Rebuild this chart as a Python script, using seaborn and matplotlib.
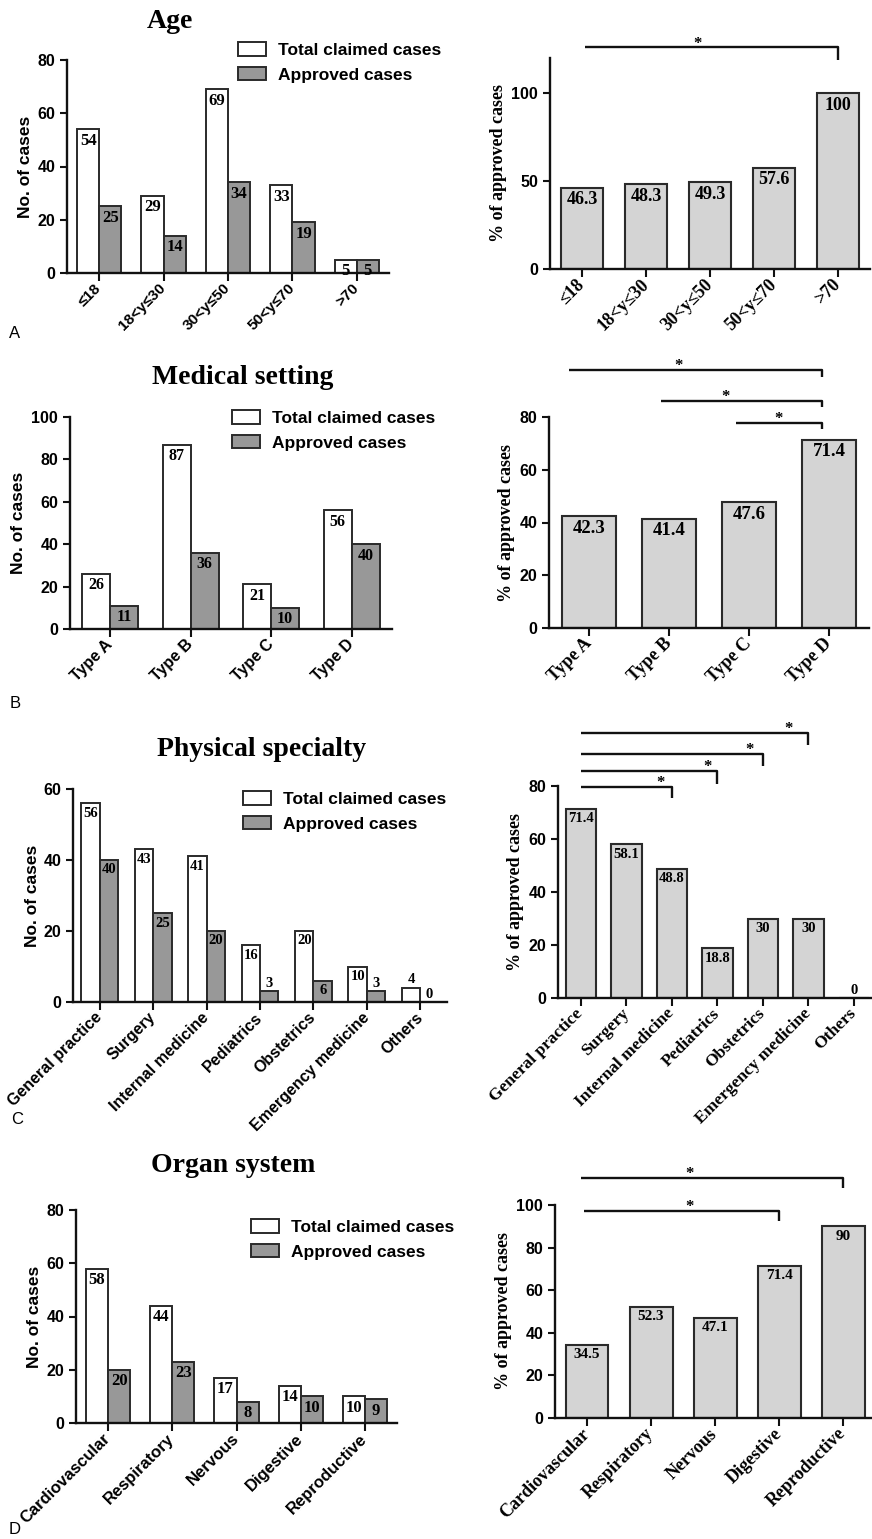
import pandas as pd
import seaborn as sns
import matplotlib.pyplot as plt
import matplotlib.patches as mpatches

# ---- data ----
age_groups = ["≤18", "18<y≤30", "30<y≤50", "50<y≤70", ">70"]
age_total = [54, 29, 69, 33, 5]
age_approved = [25, 14, 34, 19, 5]
age_pct = [46.3, 48.3, 49.3, 57.6, 100]

setting_types = ["Type A", "Type B", "Type C", "Type D"]
setting_total = [26, 87, 21, 56]
setting_approved = [11, 36, 10, 40]
setting_pct = [42.3, 41.4, 47.6, 71.4]

specialties = ["General practice", "Surgery", "Internal medicine", "Pediatrics",
               "Obstetrics", "Emergency medicine", "Others"]
specialty_total = [56, 43, 41, 16, 20, 10, 4]
specialty_approved = [40, 25, 20, 3, 6, 3, 0]
specialty_pct = [71.4, 58.1, 48.8, 18.8, 30, 30, 0]

organs = ["Cardiovascular", "Respiratory", "Nervous", "Digestive", "Reproductive"]
organ_total = [58, 44, 17, 14, 10]
organ_approved = [20, 23, 8, 10, 9]
organ_pct = [34.5, 52.3, 47.1, 71.4, 90]

series_names = ["Total claimed cases", "Approved cases"]

# ---- style ----
sns.set_style("ticks")
SANS = ["Liberation Sans", "DejaVu Sans"]
SERIF = ["Liberation Serif", "DejaVu Serif"]
plt.rcParams["font.family"] = SANS
for key in ["text.color", "axes.labelcolor", "xtick.color", "ytick.color"]:
    plt.rcParams[key] = "black"
EDGE = "#2a2a2a"
WHITE, DARK, LIGHT = "#ffffff", "#989898", "#d4d4d4"

W, H = 872, 1539
fig = plt.figure(figsize=(W / 100, H / 100), dpi=100)


def add_ax(x0, x1, ytop, ybot):
    return fig.add_axes([x0 / W, 1 - ybot / H, (x1 - x0) / W, (ybot - ytop) / H])


def style_axis(ax, ylim, yticks, lab_right, x0, x1):
    ax.set_ylim(*ylim)
    ax.set_yticks(yticks)
    for s in ["top", "right"]:
        ax.spines[s].set_visible(False)
    for s in ["left", "bottom"]:
        ax.spines[s].set_linewidth(1.7)
        ax.spines[s].set_color("#111111")
    ax.tick_params(direction="out", length=5, width=1.5, color="#111111")
    ax.tick_params(axis="x", length=6)
    for t in ax.get_yticklabels():
        t.set_fontfamily(SANS)
        t.set_fontweight("bold")
        t.set_fontsize(11.5)
    ax.set_xlabel("")
    ax.yaxis.set_label_coords((lab_right - x0) / (x1 - x0), 0.5)


def label_bars(ax, values_list, fs, above_below=5):
    for cont, values in zip(ax.containers, values_list):
        for rect, v in zip(cont.patches, values):
            cx = rect.get_x() + rect.get_width() / 2
            if v < above_below:
                ax.annotate(f"{v:g}", (cx, v), xytext=(0, 1), textcoords="offset points",
                            ha="center", va="bottom", fontsize=fs, fontweight="bold",
                            fontfamily=SERIF, annotation_clip=False)
            else:
                ax.annotate(f"{v:g}", (cx, v), xytext=(0, -2.5), textcoords="offset points",
                            ha="center", va="top", fontsize=fs, fontweight="bold",
                            fontfamily=SERIF)


def counts_panel(box, cats, total, approved, ylim, yticks, fs, lab_right, xfs, legend_xy):
    x0, x1, yt, yb = box
    ax = add_ax(*box)
    n = len(cats)
    df = pd.DataFrame({"cat": cats * 2, "value": total + approved,
                       "series": [series_names[0]] * n + [series_names[1]] * n})
    sns.barplot(data=df, x="cat", y="value", hue="series", order=cats, hue_order=series_names,
                palette=[WHITE, DARK], width=0.69, saturation=1, edgecolor=EDGE, linewidth=1.4,
                errorbar=None, legend=False, ax=ax)
    ax.set_xlim(-0.5, n - 0.5)
    style_axis(ax, ylim, yticks, lab_right, x0, x1)
    ax.set_xticks(range(n))
    ax.set_xticklabels(cats, rotation=45, ha="right", va="center", rotation_mode="anchor",
                       fontfamily=SANS, fontweight="bold", fontsize=xfs)
    ax.set_ylabel("No. of cases", fontfamily=SANS, fontweight="bold", fontsize=12.5)
    label_bars(ax, [total, approved], fs)
    handles = [mpatches.Patch(facecolor=c, edgecolor=EDGE, linewidth=1.4) for c in (WHITE, DARK)]
    ax.legend(handles, series_names, loc="upper left", frameon=False,
              bbox_to_anchor=(legend_xy[0] / W, 1 - legend_xy[1] / H), bbox_transform=fig.transFigure,
              prop={"family": SANS, "weight": "bold", "size": 12.5}, handlelength=1.6,
              handleheight=0.85, handletextpad=0.7, labelspacing=0.5, borderpad=0, borderaxespad=0)
    return ax


def pct_panel(box, cats, pct, ylim, yticks, fs, lab_right, xfs, brackets, xmax=None):
    x0, x1, yt, yb = box
    ax = add_ax(*box)
    n = len(cats)
    sns.barplot(x=cats, y=pct, order=cats, color=LIGHT, width=0.67, saturation=1,
                edgecolor=EDGE, linewidth=1.5, errorbar=None, ax=ax)
    ax.set_xlim(-0.5, xmax if xmax is not None else n - 0.5)
    style_axis(ax, ylim, yticks, lab_right, x0, x1)
    ax.set_xticks(range(n))
    ax.set_xticklabels(cats, rotation=45, ha="right", va="center", rotation_mode="anchor",
                       fontfamily=SERIF, fontweight="bold", fontsize=xfs)
    ax.set_ylabel("% of approved cases", fontfamily=SERIF, fontweight="bold", fontsize=13)
    label_bars(ax, [pct], fs, above_below=1)
    for xs, xe, y, yd, xstar in brackets:
        ax.plot([xs, xe, xe], [y, y, yd], color="#111111", lw=1.7, clip_on=False,
                solid_capstyle="butt")
        ax.annotate("*", (xstar, y), xytext=(0, -3), textcoords="offset points", ha="center",
                    va="bottom", fontsize=12, fontweight="bold", fontfamily=SERIF,
                    annotation_clip=False)
    return ax


# ---- panels ----
counts_panel((67, 389, 60, 273), age_groups, age_total, age_approved, (0, 80), range(0, 81, 20),
             12, 33, 11, (238, 42))
pct_panel((550, 870, 58, 269), age_groups, age_pct, (0, 120), [0, 50, 100], 13, 507, 13,
          [(0.05, 4.0, 126, 119, 1.8)])

counts_panel((70, 392, 417, 629), setting_types, setting_total, setting_approved, (0, 100),
             range(0, 101, 20), 11.5, 26, 11.5, (232, 410))
pct_panel((549, 869, 417, 628), setting_types, setting_pct, (0, 80), range(0, 81, 20), 13.5, 515, 13,
          [(-0.25, 2.91, 97.7, 95, 1.12), (0.9, 2.91, 86, 83.7, 1.71), (1.84, 2.91, 77.7, 75.4, 2.37)])

counts_panel((73, 447, 789, 1002), specialties, specialty_total, specialty_approved, (0, 60),
             range(0, 61, 20), 10.5, 40, 11.5, (243, 791))
pct_panel((558, 872, 786, 998), specialties, specialty_pct, (0, 80), range(0, 81, 20), 10.5, 524, 12.5,
          [(0, 2, 79.6, 75.5, 1.76), (0, 3, 85.7, 80.8, 2.79), (0, 4, 92, 87.5, 3.71),
           (0, 5, 100, 95.5, 4.57)], xmax=6.4)

counts_panel((76, 397, 1210, 1423), organs, organ_total, organ_approved, (0, 80), range(0, 81, 20),
             12, 42, 12, (251, 1219))
pct_panel((555, 872, 1205, 1418), organs, organ_pct, (0, 100), range(0, 101, 20), 11, 512, 13,
          [(-0.1, 4.0, 112.7, 108, 1.6), (-0.05, 3.0, 97.2, 92.5, 1.6)], xmax=4.45)

# ---- titles and panel letters ----
for txt, x, y in [("Age", 170, 21), ("Medical setting", 243, 378),
                  ("Physical specialty", 262, 750), ("Organ system", 233, 1165)]:
    fig.text(x / W, 1 - y / H, txt, ha="center", va="center", fontsize=20, fontweight="bold",
             fontfamily=SERIF)
for txt, x, y in [("A", 15, 333), ("B", 15, 703), ("C", 17, 1120), ("D", 15, 1530)]:
    fig.text(x / W, 1 - y / H, txt, ha="center", va="center", fontsize=12, fontfamily=SANS)

fig.savefig("out.png", dpi=100, facecolor="white")
